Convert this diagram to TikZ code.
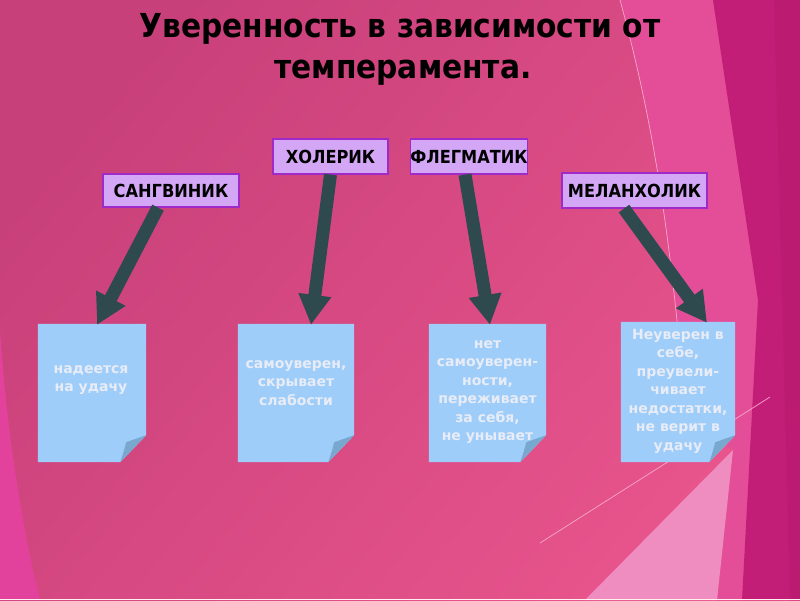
\documentclass[tikz,border=0pt]{standalone}
\usepackage{fontspec}
\setmainfont{DejaVu Sans}
\newfontfamily\condb{DejaVu Sans Condensed Bold}
\newfontfamily\sansb{DejaVu Sans Bold}
\usetikzlibrary{arrows.meta}
\definecolor{bgA}{HTML}{C8407A}
\definecolor{bgB}{HTML}{E8548C}
\definecolor{panelP}{HTML}{E44E98}
\definecolor{panelD}{HTML}{C21E78}
\definecolor{panelDD}{HTML}{BC1B72}
\definecolor{panelT}{HTML}{F08DC0}
\definecolor{stripL}{HTML}{E2429C}
\definecolor{thinline}{HTML}{F6A8CC}
\definecolor{lblfill}{HTML}{D4A7F6}
\definecolor{lbldraw}{HTML}{A02AC8}
\definecolor{notefill}{HTML}{9ECDFA}
\definecolor{notefold}{HTML}{78A8CE}
\definecolor{notetext}{HTML}{E8ECF6}
\definecolor{arrowc}{HTML}{2E4A4F}
\tikzset{
  lbl/.style={draw=lbldraw, line width=1.2pt, fill=lblfill, inner sep=0pt,
    font=\condb\fontsize{18}{20}\selectfont, text=black},
  notebox/.style={inner sep=0pt, minimum height=138pt},
  notetxt/.style={align=center, text=notetext, font=\sansb\fontsize{14}{18.5}\selectfont},
  bigarrow/.style={draw=arrowc, line width=13pt, -{Triangle[width=31pt,length=30pt]}},
  titletxt/.style={anchor=base, text=black, font=\condb\fontsize{33}{41}\selectfont, inner sep=0pt}
}
\begin{document}
\begin{tikzpicture}[x=1pt,y=-1pt]
\useasboundingbox (0,0) rectangle (800,600);
% background
\shade[top color=bgA, bottom color=bgB, shading angle=50] (0,0) rectangle (800,600);
\fill[stripL] (0,330) .. controls (6,420) and (20,520) .. (40,600) -- (0,600) -- cycle;
\fill[panelP] (620,0) -- (713,0) -- (758,300) -- (742,600) -- (717,600) -- (733,450) -- (686,420)
  .. controls (670,220) and (650,110) .. (620,0) -- cycle;
\fill[panelT] (585,600) -- (717,600) -- (733,450) -- cycle;
\fill[panelD] (713,0) -- (800,0) -- (800,600) -- (742,600) -- (758,300) -- cycle;
\fill[panelDD] (774,0) -- (800,0) -- (800,600) -- (790,600) -- cycle;
\draw[thinline, line width=0.7pt] (620,0) .. controls (650,110) and (670,220) .. (686,420);
\draw[thinline, line width=0.7pt] (540,543) -- (770,397);
\draw[white!80!pink, line width=1.5pt] (0,599.25) -- (800,599.25);
% title
\node[titletxt] (title1) at (400,37) {Уверенность в зависимости от};
\node[titletxt] (title2) at (403,78) {темперамента.};
% labels
\node[lbl, minimum width=136pt, minimum height=33pt] (sang) at (171,190.5) {САНГВИНИК};
\node[lbl, minimum width=115pt, minimum height=35pt] (hol) at (330.5,156.5) {ХОЛЕРИК};
\node[lbl, minimum width=116pt, minimum height=35pt] (fleg) at (469,156.5) {ФЛЕГМАТИК};
\node[lbl, minimum width=145pt, minimum height=35pt] (mel) at (634.5,190.5) {МЕЛАНХОЛИК};
% notes
\node[notebox, minimum width=108pt] (n1) at (92,393) {};
\node[notebox, minimum width=116pt] (n2) at (296,393) {};
\node[notebox, minimum width=117pt] (n3) at (487.5,393) {};
\node[notebox, minimum width=114pt, minimum height=140pt] (n4) at (678,392) {};
\foreach \n in {n1,n2,n3,n4}{
  \fill[notefill] (\n.north west) -- (\n.north east) -- ([yshift=27pt]\n.south east)
    -- ([xshift=-26pt]\n.south east) -- (\n.south west) -- cycle;
  \fill[notefold] ([yshift=27pt]\n.south east) -- ([xshift=-26pt]\n.south east)
    .. controls ([xshift=-22pt,yshift=12pt]\n.south east) .. ([xshift=-20pt,yshift=20pt]\n.south east)
    -- cycle;
}
% arrows
\draw[bigarrow] ([xshift=-13pt]sang.south) -- ([xshift=5pt,yshift=-1pt]n1.north);
\draw[bigarrow] (hol.south) -- ([xshift=15pt,yshift=-1pt]n2.north);
\draw[bigarrow] ([xshift=-4pt]fleg.south) -- ([xshift=2.5pt,yshift=-1pt]n3.north);
\draw[bigarrow] ([xshift=-10.5pt]mel.south) -- ([xshift=29pt,yshift=-1pt]n4.north);
% note texts
\node[notetxt] (t1) at (91,380) {надеется\\на удачу};
\node[notetxt] (t2) at (296,383) {самоуверен,\\скрывает\\слабости};
\node[notetxt] (t3) at (487.5,392) {нет\\самоуверен-\\ности,\\переживает\\за себя,\\не унывает};
\node[notetxt] (t4) at (678,391) {Неуверен в\\себе,\\преувели-\\чивает\\недостатки,\\не верит в\\удачу};
\end{tikzpicture}
\end{document}
